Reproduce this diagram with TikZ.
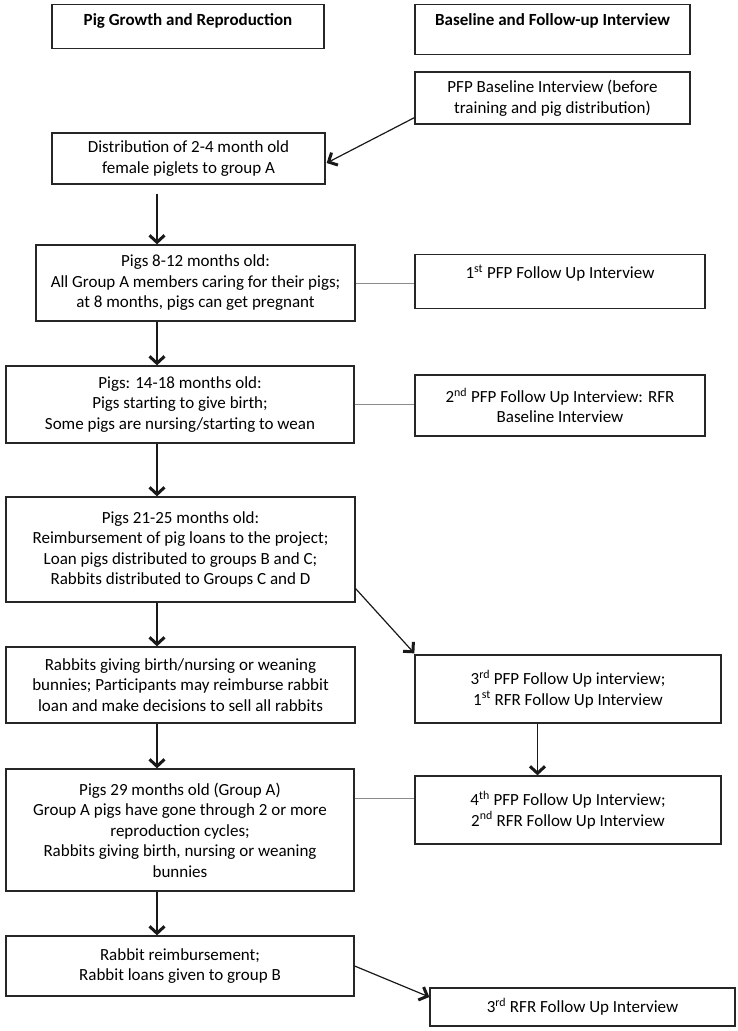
\documentclass[tikz,border=0pt]{standalone}
\usepackage{fontspec}
\setmainfont{Carlito}
\usetikzlibrary{arrows.meta,calc}
\begin{document}
\begin{tikzpicture}[x=1pt,y=-1pt,
  box/.style={draw=black!85, line width=1.3pt, rectangle, align=center,
    inner xsep=2pt, inner ysep=0pt, font=\fontsize{17}{20.5}\selectfont},
  head/.style={box, font=\fontsize{17}{20.5}\selectfont\bfseries},
  arr/.style={line width=1.5pt, draw=black!90,
    -{Straight Barb[length=7pt,width=15pt,line width=3pt]}},
  darr/.style={line width=1.2pt, draw=black!90,
    -{Straight Barb[length=7pt,width=14pt,line width=3pt]}},
  link/.style={line width=0.8pt, draw=black!45}
]
\useasboundingbox (0,0) rectangle (737,1031);
\fill[white] (0,0) rectangle (737,1031);

% headers
\node[head, anchor=north, minimum width=272pt, text height=21pt, text depth=23pt] (hL) at (188,4) {Pig Growth and Reproduction};
\node[head, anchor=north, minimum width=275pt, text height=21pt, text depth=29pt] (hR) at (552.5,4) {Baseline and Follow-up Interview};

% left column
\node[box, minimum width=273pt, minimum height=51pt] (dist) at (188.5,158.5) {Distribution of 2-4 month old\\female piglets to group A};
\node[box, minimum width=319pt, minimum height=76pt] (p812) at (195.5,283) {Pigs 8-12 months old:\\All Group A members caring for their pigs;\\at 8 months, pigs can get pregnant};
\node[box, minimum width=348pt, minimum height=77pt] (p1418) at (180,404.5) {Pigs: 14-18 months old:\\Pigs starting to give birth;\\Some pigs are nursing/starting to wean};
\node[box, minimum width=349pt, minimum height=105pt] (p2125) at (180.5,549.5) {Pigs 21-25 months old:\\Reimbursement of pig loans to the project;\\Loan pigs distributed to groups B and C;\\Rabbits distributed to Groups C and D};
\node[box, minimum width=349pt, minimum height=76pt] (rab) at (180.5,685) {Rabbits giving birth/nursing or weaning\\bunnies; Participants may reimburse rabbit\\loan and make decisions to sell all rabbits};
\node[box, minimum width=348pt, minimum height=122pt] (p29) at (180,830) {Pigs 29 months old (Group A)\\Group A pigs have gone through 2 or more\\reproduction cycles;\\Rabbits giving birth, nursing or weaning\\bunnies};
\node[box, minimum width=348pt, minimum height=60pt] (rr) at (180,966) {Rabbit reimbursement;\\Rabbit loans given to group B};

% right column
\node[box, minimum width=275pt, minimum height=52pt] (pfpB) at (552.5,98) {PFP Baseline Interview (before\\training and pig distribution)};
\node[box, anchor=north, minimum width=290pt, text height=24pt, text depth=30pt] (f1) at (560,254) {1\textsuperscript{st} PFP Follow Up Interview};
\node[box, minimum width=290pt, minimum height=61pt] (f2) at (560,405.5) {2\textsuperscript{nd} PFP Follow Up Interview: RFR\\Baseline Interview};
\node[box, minimum width=306pt, minimum height=68pt] (f3) at (568,689) {3\textsuperscript{rd} PFP Follow Up interview;\\1\textsuperscript{st} RFR Follow Up Interview};
\node[box, minimum width=306pt, minimum height=68pt] (f4) at (568,810) {4\textsuperscript{th} PFP Follow Up Interview;\\2\textsuperscript{nd} RFR Follow Up Interview};
\node[box, minimum width=305pt, minimum height=38pt] (r3) at (582.5,1007) {3\textsuperscript{rd} RFR Follow Up Interview};

% arrow columns
\coordinate (ax) at (157,0);
\coordinate (bx) at (537.5,0);

% vertical arrows
\draw[arr] ([yshift=-9pt]dist.south -| ax) -- (p812.north -| ax);
\draw[arr] (p812.south -| ax) -- (p1418.north -| ax);
\draw[arr] (p1418.south -| ax) -- (p2125.north -| ax);
\draw[arr] (p2125.south -| ax) -- (rab.north -| ax);
\draw[arr] (rab.south -| ax) -- (p29.north -| ax);
\draw[arr] (p29.south -| ax) -- (rr.north -| ax);
\draw[arr] (f3.south -| bx) -- (f4.north -| bx);

% diagonal arrows
\draw[darr] ([yshift=7pt]pfpB.south west) -- ([yshift=-4.5pt,xshift=1pt]dist.east);
\draw[darr] ([yshift=14pt]p2125.south east) -- ([yshift=1pt]f3.north west);
\draw[darr] (rr.east) -- ([yshift=10pt]r3.west);

% plain links
\draw[link] (p812.east) -- (p812.east -| f1.west);
\draw[link] (p1418.east) -- (p1418.east -| f2.west);
\draw[link] ([yshift=32pt]p29.east) -- ([yshift=32pt]p29.east -| f4.west);
\end{tikzpicture}
\end{document}
